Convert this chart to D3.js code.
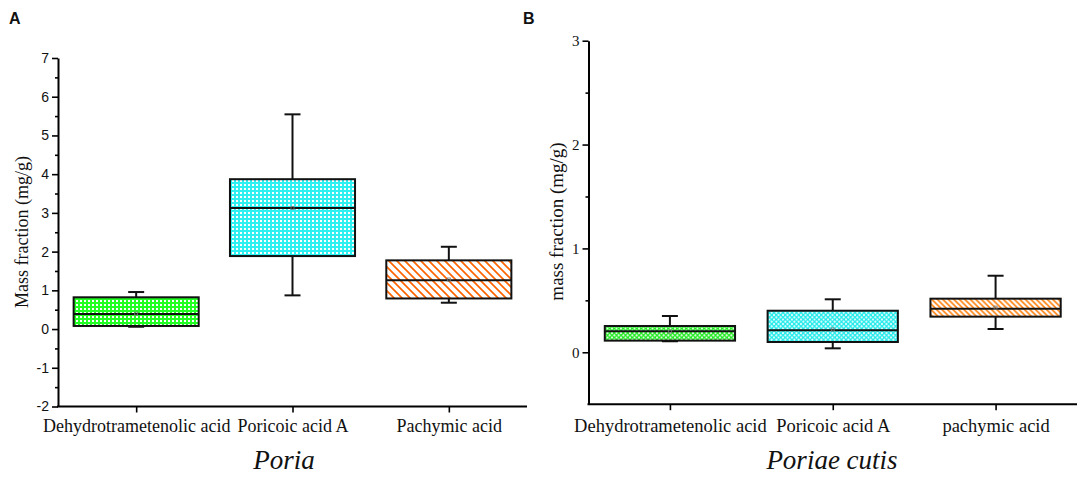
<!DOCTYPE html>
<html>
<head>
<meta charset="utf-8">
<script src="https://cdn.jsdelivr.net/npm/d3@7"></script>
<style>
  body { margin: 0; background: #fff; }
  svg { display: block; }
</style>
</head>
<body>
<div id="chart"></div>
<script>
// Panel A: Poria
var categoriesA = ["Dehydrotrametenolic acid", "Poricoic acid A", "Pachymic acid"];
var minA = [0.06, 0.87, 0.68];
var q1A = [0.08, 1.885, 0.79];
var medianA = [0.39, 3.125, 1.258];
var q3A = [0.82, 3.87, 1.774];
var maxA = [0.956, 5.545, 2.125];
var meanA = [0.40, 3.13, 1.28];
var yTicksA = [-2, -1, 0, 1, 2, 3, 4, 5, 6, 7];

// Panel B: Poriae cutis
var categoriesB = ["Dehydrotrametenolic acid", "Poricoic acid A", "pachymic acid"];
var minB = [0.106, 0.038, 0.224];
var q1B = [0.112, 0.099, 0.343];
var medianB = [0.202, 0.212, 0.42];
var q3B = [0.253, 0.40, 0.516];
var maxB = [0.349, 0.51, 0.737];
var meanB = [0.20, 0.22, 0.43];
var yTicksB = [0, 1, 2, 3];

var W = 1084, H = 479;
var serif = "'Liberation Serif', 'Times New Roman', Times, serif";
var sans = "'Liberation Sans', Arial, Helvetica, sans-serif";

var svg = d3.select("#chart").append("svg")
  .attr("width", W)
  .attr("height", H);

var defs = svg.append("defs");

// checker fill (panel A green / cyan)
function checker(id, color, cell) {
  var p = defs.append("pattern")
    .attr("id", id)
    .attr("patternUnits", "userSpaceOnUse")
    .attr("width", cell * 2)
    .attr("height", cell * 2);
  p.append("rect").attr("width", cell * 2).attr("height", cell * 2).attr("fill", color);
  p.append("rect").attr("width", cell).attr("height", cell).attr("fill", "#fff");
}
// coloured fill with white diamonds (panel B green / cyan)
function diamonds(id, color, size) {
  var p = defs.append("pattern")
    .attr("id", id)
    .attr("patternUnits", "userSpaceOnUse")
    .attr("width", size)
    .attr("height", size);
  p.append("rect").attr("width", size).attr("height", size).attr("fill", color);
  var h = size / 2, r = size * 0.28;
  function diamond(cx, cy) {
    return "M" + cx + "," + (cy - r) + "L" + (cx + r) + "," + cy + "L" + cx + "," + (cy + r) + "L" + (cx - r) + "," + cy + "Z";
  }
  p.append("path").attr("d", diamond(h, h)).attr("fill", "#fff");
  [[0, 0], [size, 0], [0, size], [size, size]].forEach(function(c) {
    p.append("path").attr("d", diamond(c[0], c[1])).attr("fill", "#fff");
  });
}
// diagonal "\" hatch
function hatch(id, color, gap, width) {
  var p = defs.append("pattern")
    .attr("id", id)
    .attr("patternUnits", "userSpaceOnUse")
    .attr("width", gap)
    .attr("height", gap);
  p.append("rect").attr("width", gap).attr("height", gap).attr("fill", "#fff");
  p.append("path")
    .attr("d", "M" + (-gap / 2) + "," + (gap / 2) + "L" + (gap / 2) + "," + (gap * 1.5) +
               "M0,0L" + gap + "," + gap +
               "M" + (gap / 2) + "," + (-gap / 2) + "L" + (gap * 1.5) + "," + (gap / 2))
    .attr("stroke", color)
    .attr("stroke-width", width);
}

checker("greenA", "#22ff22", 2);
checker("cyanA", "#2ef0f0", 2);
hatch("orangeA", "#ff6400", 8, 1.7);
diamonds("greenB", "#1ee81e", 4.5);
diamonds("cyanB", "#1eeaea", 4.5);
hatch("orangeB", "#ff7a00", 5.5, 1.5);

var hyphenFormat = function(d) { return String(d).replace("\u2212", "-"); };

function panel(opt) {
  var g = svg.append("g");

  var x = d3.scalePoint()
    .domain(opt.categories)
    .range(opt.xRange)
    .padding(0.5);
  var y = d3.scaleLinear()
    .domain(opt.yDomain)
    .range(opt.yRange);
  var boxW = x.step() * 0.8;
  var capW = 16;

  // y axis: majors and minors
  var yAxis = g.append("g")
    .attr("transform", "translate(" + opt.xRange[0] + ",0)")
    .call(d3.axisLeft(y).tickValues(opt.yTicks).tickSize(6).tickSizeOuter(0).tickFormat(hyphenFormat));
  yAxis.select(".domain").attr("stroke-width", 2);
  yAxis.selectAll(".tick line").attr("stroke-width", 1.6);
  yAxis.selectAll(".tick text")
    .attr("x", -9)
    .style("font-family", opt.tickFont)
    .style("font-size", opt.tickSize + "px")
    .attr("fill", "#111");

  var minors = g.append("g")
    .attr("transform", "translate(" + opt.xRange[0] + ",0)")
    .call(d3.axisLeft(y).tickValues(opt.yMinor).tickSize(3).tickFormat(""));
  minors.select(".domain").remove();
  minors.selectAll(".tick line").attr("stroke-width", 1.6);

  // x axis
  var xAxis = g.append("g")
    .attr("transform", "translate(0," + opt.yRange[0] + ")")
    .call(d3.axisBottom(x).tickSize(6).tickSizeOuter(0));
  xAxis.select(".domain").attr("stroke-width", 2).attr("d", "M" + (opt.xRange[0] - 1) + ",0H" + opt.xRange[1]);
  xAxis.selectAll(".tick line").attr("stroke-width", 1.6);
  xAxis.selectAll(".tick text")
    .attr("y", 0)
    .attr("dy", null)
    .attr("transform", "translate(0," + (432 - opt.yRange[0]) + ")")
    .style("font-family", serif)
    .style("font-size", opt.catSize + "px")
    .attr("fill", "#111");

  // boxes
  var rows = opt.categories.map(function(c, i) {
    return { cat: c, min: opt.min[i], q1: opt.q1[i], med: opt.median[i], q3: opt.q3[i], max: opt.max[i], mean: opt.mean[i], fill: opt.fills[i] };
  });

  var box = g.selectAll(".box")
    .data(rows)
    .enter()
    .append("g")
    .attr("class", "box");

  // whiskers
  box.append("line")
    .attr("x1", function(d) { return x(d.cat); })
    .attr("x2", function(d) { return x(d.cat); })
    .attr("y1", function(d) { return y(d.max); })
    .attr("y2", function(d) { return y(d.min); })
    .attr("stroke", "#111").attr("stroke-width", 2);
  box.append("line")
    .attr("x1", function(d) { return x(d.cat) - capW / 2; })
    .attr("x2", function(d) { return x(d.cat) + capW / 2; })
    .attr("y1", function(d) { return y(d.max); })
    .attr("y2", function(d) { return y(d.max); })
    .attr("stroke", "#111").attr("stroke-width", 2);
  box.append("line")
    .attr("x1", function(d) { return x(d.cat) - capW / 2; })
    .attr("x2", function(d) { return x(d.cat) + capW / 2; })
    .attr("y1", function(d) { return y(d.min); })
    .attr("y2", function(d) { return y(d.min); })
    .attr("stroke", "#111").attr("stroke-width", 2);

  box.append("rect")
    .attr("x", function(d) { return x(d.cat) - boxW / 2; })
    .attr("width", boxW)
    .attr("y", function(d) { return y(d.q3); })
    .attr("height", function(d) { return y(d.q1) - y(d.q3); })
    .attr("fill", function(d) { return "url(#" + d.fill + ")"; })
    .attr("stroke", "#111")
    .attr("stroke-width", 2);

  box.append("line")
    .attr("x1", function(d) { return x(d.cat) - boxW / 2; })
    .attr("x2", function(d) { return x(d.cat) + boxW / 2; })
    .attr("y1", function(d) { return y(d.med); })
    .attr("y2", function(d) { return y(d.med); })
    .attr("stroke", "#111").attr("stroke-width", 2);

  // mean marker
  box.append("rect")
    .attr("x", function(d) { return x(d.cat) - 1.5; })
    .attr("y", function(d) { return y(d.mean) - 1.5; })
    .attr("width", 3).attr("height", 3)
    .attr("fill", "none")
    .attr("stroke", "#777")
    .attr("stroke-width", 0.8);

  // y title
  g.append("text")
    .attr("transform", "translate(" + opt.yTitlePos[0] + "," + opt.yTitlePos[1] + ") rotate(-90)")
    .attr("text-anchor", "middle")
    .style("font-family", serif)
    .style("font-size", opt.yTitleSize + "px")
    .attr("fill", "#111")
    .text(opt.yTitle);

  // bottom title
  g.append("text")
    .attr("x", opt.titleX)
    .attr("y", 469)
    .attr("text-anchor", "middle")
    .style("font-family", serif)
    .style("font-style", "italic")
    .style("font-size", "27px")
    .attr("fill", "#111")
    .text(opt.title);

  // panel letter
  g.append("text")
    .attr("x", opt.letterX)
    .attr("y", 24)
    .style("font-family", sans)
    .style("font-weight", "bold")
    .style("font-size", "16px")
    .attr("fill", "#111")
    .text(opt.letter);
}

panel({
  categories: categoriesA,
  min: minA, q1: q1A, median: medianA, q3: q3A, max: maxA, mean: meanA,
  fills: ["greenA", "cyanA", "orangeA"],
  xRange: [58, 527],
  yDomain: [-2, 7],
  yRange: [406.5, 58],
  yTicks: yTicksA,
  yMinor: d3.range(-1.5, 7, 1),
  tickFont: sans,
  tickSize: 14,
  catSize: 18,
  yTitle: "Mass fraction (mg/g)",
  yTitleSize: 18,
  yTitlePos: [28, 232],
  title: "Poria",
  titleX: 284,
  letter: "A",
  letterX: 9
});

panel({
  categories: categoriesB,
  min: minB, q1: q1B, median: medianB, q3: q3B, max: maxB, mean: meanB,
  fills: ["greenB", "cyanB", "orangeB"],
  xRange: [588.5, 1077],
  yDomain: [-0.5, 3],
  yRange: [404.2, 40.7],
  yTicks: yTicksB,
  yMinor: [0.5, 1.5, 2.5],
  tickFont: serif,
  tickSize: 15,
  catSize: 18.5,
  yTitle: "mass fraction (mg/g)",
  yTitleSize: 19,
  yTitlePos: [563, 221.5],
  title: "Poriae cutis",
  titleX: 832,
  letter: "B",
  letterX: 523
});
</script>
</body>
</html>
